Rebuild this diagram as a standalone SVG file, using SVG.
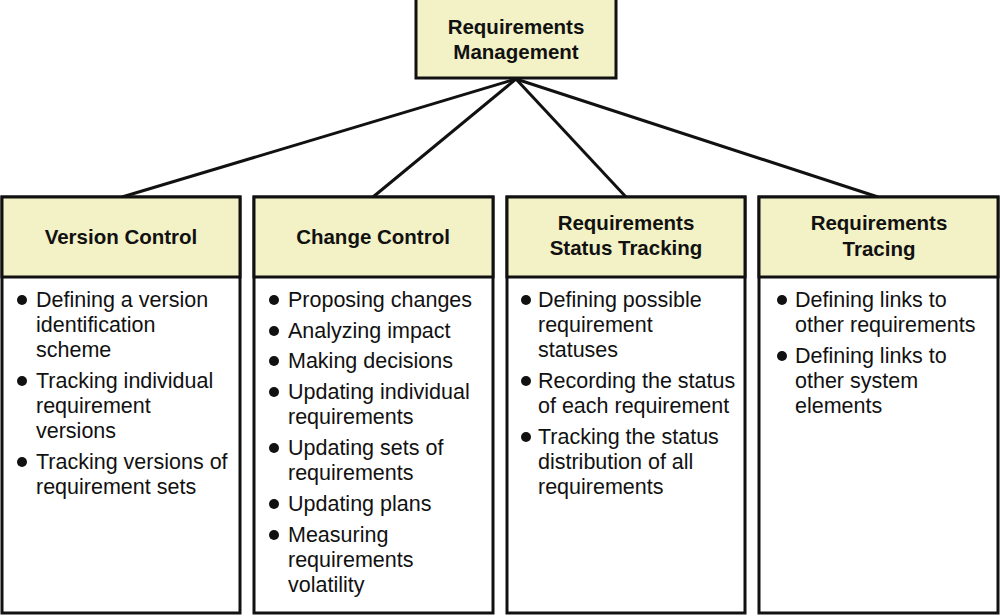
<svg xmlns="http://www.w3.org/2000/svg" width="1000" height="616" viewBox="0 0 1000 616">
<style>
.box{fill:#fff;stroke:#111;stroke-width:3}
.hdr{fill:#f3f1c6;stroke:#111;stroke-width:3}
.h{font-family:"Liberation Sans",Arial,sans-serif;font-size:20.5px;font-weight:bold;fill:#111;text-anchor:middle}
.t{font-family:"Liberation Sans",Arial,sans-serif;font-size:21.5px;fill:#111}
.b{fill:#111}
.c{stroke:#111;stroke-width:3;fill:none}
</style>
<rect width="1000" height="616" fill="#fff"/>
<g id="connectors">
<line class="c" x1="516" y1="79" x2="122" y2="197"/>
<line class="c" x1="516" y1="79" x2="373" y2="197"/>
<line class="c" x1="516" y1="79" x2="626" y2="197"/>
<line class="c" x1="516" y1="79" x2="878" y2="197"/>
</g>
<g id="root">
<rect class="hdr" x="416" y="-2" width="200" height="80"/>
<text class="h" x="516" y="34">Requirements</text>
<text class="h" x="516" y="59">Management</text>
</g>
<g id="version-control">
<rect class="box" x="2" y="197" width="238" height="416"/>
<rect class="hdr" x="2" y="197" width="238" height="80"/>
<text class="h" x="121" y="244">Version Control</text>
<circle class="b" cx="22" cy="300" r="5"/>
<text class="t" x="36" y="307">Defining a version</text>
<text class="t" x="36" y="332">identification</text>
<text class="t" x="36" y="357">scheme</text>
<circle class="b" cx="22" cy="381" r="5"/>
<text class="t" x="36" y="388">Tracking individual</text>
<text class="t" x="36" y="413">requirement</text>
<text class="t" x="36" y="438">versions</text>
<circle class="b" cx="22" cy="462" r="5"/>
<text class="t" x="36" y="469">Tracking versions of</text>
<text class="t" x="36" y="494">requirement sets</text>
</g>
<g id="change-control">
<rect class="box" x="254" y="197" width="239" height="416"/>
<rect class="hdr" x="254" y="197" width="239" height="80"/>
<text class="h" x="373" y="244">Change Control</text>
<circle class="b" cx="274" cy="300" r="5"/>
<text class="t" x="288" y="307">Proposing changes</text>
<circle class="b" cx="274" cy="331" r="5"/>
<text class="t" x="288" y="338">Analyzing impact</text>
<circle class="b" cx="274" cy="361" r="5"/>
<text class="t" x="288" y="368">Making decisions</text>
<circle class="b" cx="274" cy="392" r="5"/>
<text class="t" x="288" y="399">Updating individual</text>
<text class="t" x="288" y="424">requirements</text>
<circle class="b" cx="274" cy="448" r="5"/>
<text class="t" x="288" y="455">Updating sets of</text>
<text class="t" x="288" y="480">requirements</text>
<circle class="b" cx="274" cy="504" r="5"/>
<text class="t" x="288" y="511">Updating plans</text>
<circle class="b" cx="274" cy="535" r="5"/>
<text class="t" x="288" y="542">Measuring</text>
<text class="t" x="288" y="567">requirements</text>
<text class="t" x="288" y="592">volatility</text>
</g>
<g id="status-tracking">
<rect class="box" x="507" y="197" width="238" height="416"/>
<rect class="hdr" x="507" y="197" width="238" height="80"/>
<text class="h" x="626" y="230">Requirements</text>
<text class="h" x="626" y="255">Status Tracking</text>
<circle class="b" cx="526" cy="300" r="5"/>
<text class="t" x="538" y="307">Defining possible</text>
<text class="t" x="538" y="332">requirement</text>
<text class="t" x="538" y="357">statuses</text>
<circle class="b" cx="526" cy="381" r="5"/>
<text class="t" x="538" y="388">Recording the status</text>
<text class="t" x="538" y="413">of each requirement</text>
<circle class="b" cx="526" cy="437" r="5"/>
<text class="t" x="538" y="444">Tracking the status</text>
<text class="t" x="538" y="469">distribution of all</text>
<text class="t" x="538" y="494">requirements</text>
</g>
<g id="tracing">
<rect class="box" x="759" y="197" width="239" height="416"/>
<rect class="hdr" x="759" y="197" width="239" height="80"/>
<text class="h" x="879" y="230">Requirements</text>
<text class="h" x="879" y="256">Tracing</text>
<circle class="b" cx="782" cy="300" r="5"/>
<text class="t" x="795" y="307">Defining links to</text>
<text class="t" x="795" y="332">other requirements</text>
<circle class="b" cx="782" cy="356" r="5"/>
<text class="t" x="795" y="363">Defining links to</text>
<text class="t" x="795" y="388">other system</text>
<text class="t" x="795" y="413">elements</text>
</g>
</svg>
